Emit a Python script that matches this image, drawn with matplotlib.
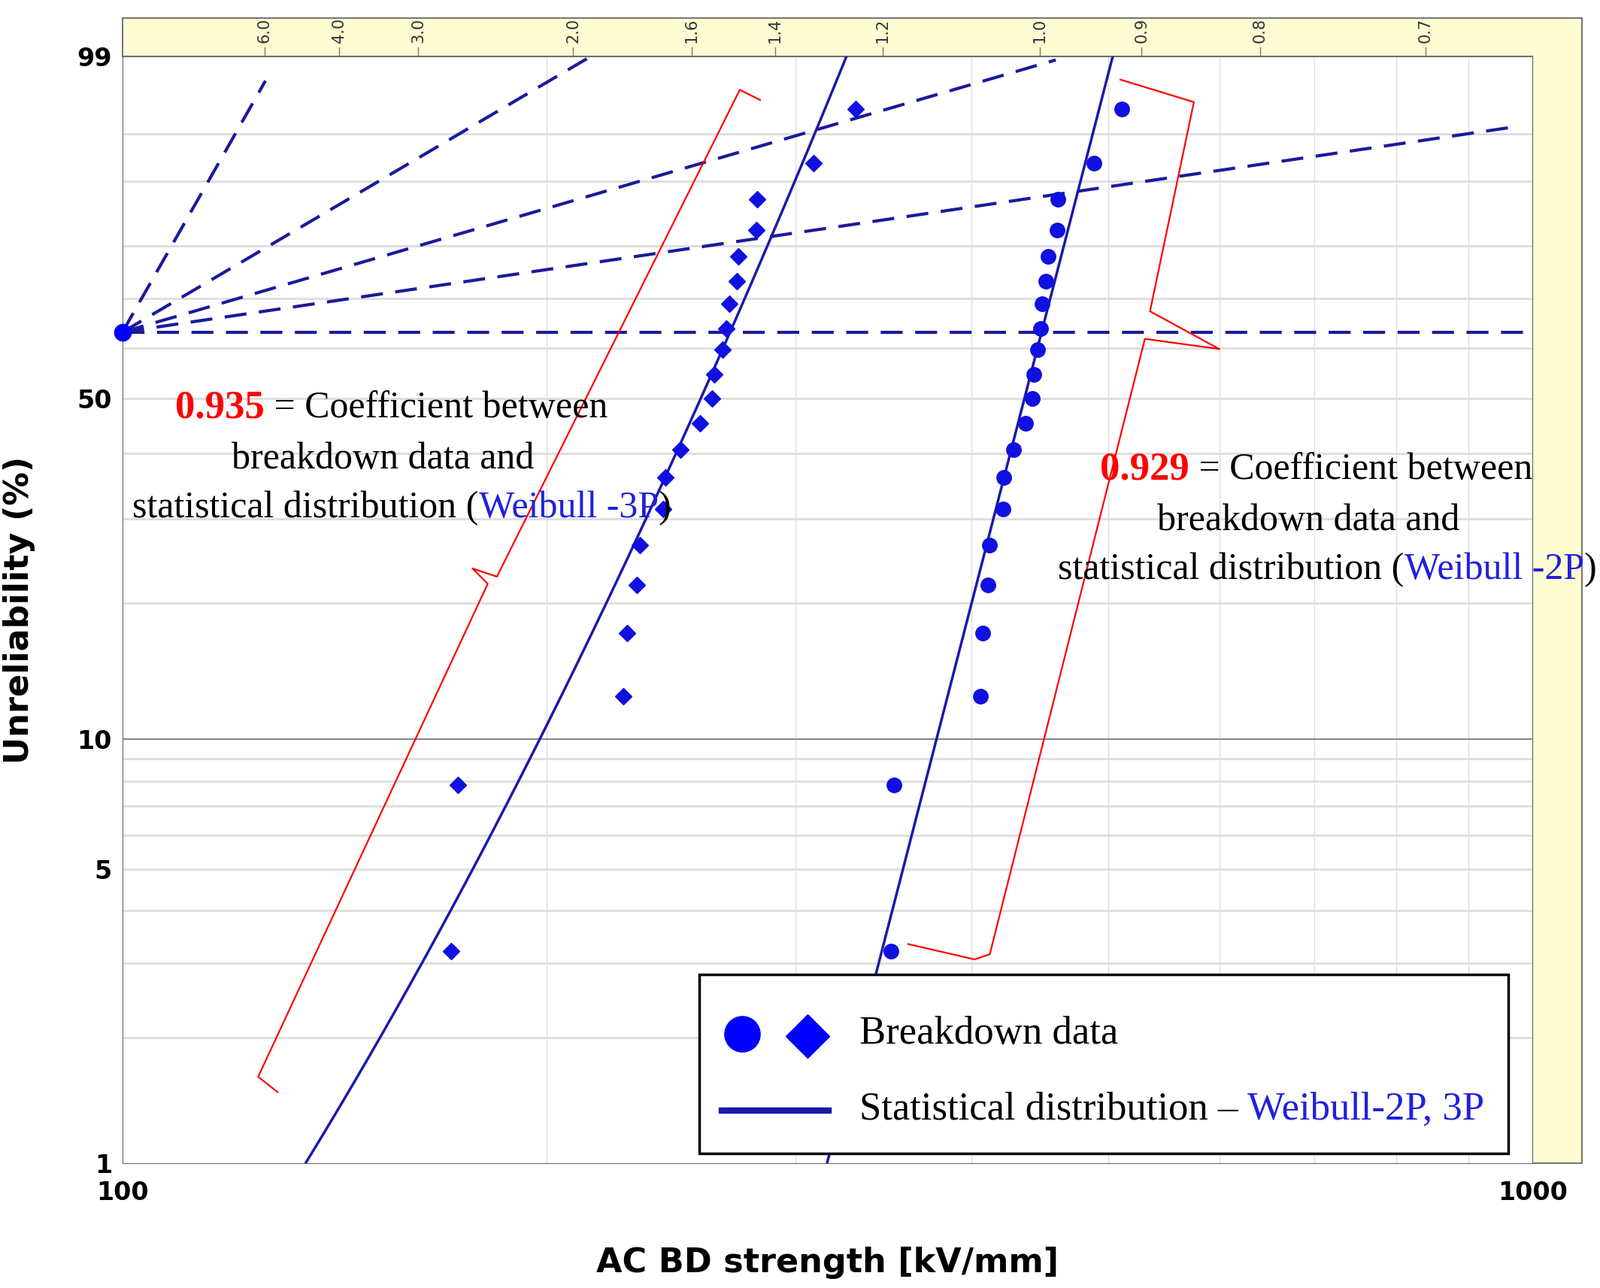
import numpy as np
import matplotlib.pyplot as plt
from matplotlib.patches import Polygon, Rectangle
from matplotlib.lines import Line2D
from matplotlib.transforms import blended_transform_factory

# breakdown data (kV/mm, unreliability %)
F_pct = [7.85, 3.2, 12.5, 17.2, 21.9, 26.5, 31.3, 36.1, 40.6, 45.3, 50.0,
         54.6, 59.6, 63.9, 68.9, 73.5, 78.2, 82.8, 87.6, 92.2, 96.8]
x_3p = [173, 171, 226.6, 228, 231.6, 232.7, 241.8, 242.7, 248.8, 256.8, 261.9,
        262.8, 266.4, 268.2, 269.5, 272.7, 273.2, 281.5, 281.9, 309, 331]
x_2p = [352.4, 350.7, 406, 407.4, 410.8, 412.1, 421.2, 421.9, 428.2, 436.9, 442,
        442.8, 445.7, 448, 448.7, 451.7, 453.2, 460, 460.8, 488.6, 511]

# fitted parameters
beta_2p, eta_2p = 13.13, 448.5
beta_3p, eta_3p, gamma_3p = 12.9, 449.7, -180.0

# beta-scale rays from the eta point: end (x, F%)
ray_ends = [(126.3, 98.2), (215, 99.0), (459, 98.9), (963, 95.5), (1000, 63.21)]
beta_labels = ['6.0', '4.0', '3.0', '2.0', '1.6', '1.4', '1.2', '1.0', '0.9', '0.8', '0.7']
beta_label_x = [126.1, 142.4, 162.1, 208.7, 253.3, 290.2, 346.0, 447.2, 528.0, 640.7, 839.2]

W, H = 1568.0, 1262.0


def fwd(F):
    p = np.clip(np.asarray(F, float) / 100.0, 1e-6, 1 - 1e-9)
    return np.log(-np.log(1 - p))


def inv(w):
    return 100.0 * (1 - np.exp(-np.exp(np.asarray(w, float))))


def px(x, y):
    return x / W, 1 - y / H


fig = plt.figure(figsize=(21.28, 17.13), dpi=100)
serif = ['Liberation Serif', 'DejaVu Serif']
FS = 36

# yellow frame behind the axes
frame = Polygon([px(120, 55), px(120, 18), px(1550, 18), px(1550, 1140), px(1502, 1140), px(1502, 55)],
                closed=True, transform=fig.transFigure, facecolor='#FFFBD2', edgecolor='#777777', lw=1.5,
                zorder=-1)
fig.patches.append(frame)
fig.lines.append(Line2D([px(1502, 55)[0], px(1550, 18)[0]], [px(1502, 55)[1], px(1550, 18)[1]],
                        transform=fig.transFigure, color='#444444', lw=1.5, zorder=-1))

l, b = px(120, 1140)
r, t = px(1502, 55)
ax = fig.add_axes([l, b, r - l, t - b])
ax.set_xscale('log')
ax.set_yscale('function', functions=(fwd, inv))
ax.set_xlim(100, 1000)
ax.set_ylim(1, 99)

# grid
for xv in range(200, 1000, 100):
    ax.axvline(xv, color='#dddddd', lw=1, zorder=0)
for yv in [2, 3, 4, 5, 6, 7, 8, 9, 20, 30, 40, 50, 60, 70, 80, 90, 95]:
    ax.axhline(yv, color='#dddddd', lw=2, zorder=0)
ax.axhline(10, color='#888888', lw=1.5, zorder=0)

ax.set_xticks([100, 1000])
ax.set_xticklabels(['100', '1000'], fontsize=24, fontweight='bold')
ax.xaxis.set_minor_locator(plt.NullLocator())
ax.set_yticks([1, 5, 10, 50, 99])
ax.set_yticklabels(['1', '5', '10', '50', '99'], fontsize=24, fontweight='bold')
ax.yaxis.set_minor_locator(plt.NullLocator())
ax.tick_params(axis='y', length=0, pad=10)
ax.tick_params(axis='x', length=0, pad=16)
ax.set_xlabel('AC BD strength [kV/mm]', fontsize=32, fontweight='bold', labelpad=40)
ax.set_ylabel('Unreliability (%)', fontsize=32, fontweight='bold', labelpad=40)
for s in ax.spines.values():
    s.set_color('#666666')

# beta scale on top
trans = blended_transform_factory(ax.transData, ax.transAxes)
for lab, xv in zip(beta_labels, beta_label_x):
    ax.text(xv, 1.012, lab, transform=trans, rotation=90, fontsize=15, ha='center', va='bottom',
            color='#333333')
    ax.plot([xv, xv], [1.0, 1.008], transform=trans, color='#777777', lw=1, clip_on=False)

# rays
for xe, Fe in ray_ends:
    xs = np.logspace(2, np.log10(xe), 60)
    ws = fwd(63.21) + (np.log10(xs) - 2) / (np.log10(xe) - 2) * (fwd(Fe) - fwd(63.21))
    ax.plot(xs, inv(ws), color='#1a1a9c', lw=3, ls=(0, (7, 4)), zorder=2)
ax.plot([100], [63.21], 'o', color='blue', ms=16, clip_on=False, zorder=5)
ax.text(1.002, fwd(63.21), 'Eta', transform=blended_transform_factory(ax.transAxes, ax.transData),
        fontsize=12, va='center', color='#444444')

# fitted distributions
xf = np.logspace(2, 3, 400)
F2 = 100 * (1 - np.exp(-(xf / eta_2p) ** beta_2p))
F3 = 100 * (1 - np.exp(-((xf - gamma_3p) / eta_3p) ** beta_3p))
ax.plot(xf, F2, color='#1a1aaa', lw=2.5, zorder=3)
ax.plot(xf, F3, color='#1a1aaa', lw=2.5, zorder=3)

# data points
ax.plot(x_3p, F_pct, 'D', color='#1010e0', ms=11, zorder=4)
ax.plot(x_2p, F_pct, 'o', color='#1010e0', ms=14, zorder=4)

# red braces
brace1 = [(272, 1070), (253, 1055), (478, 572), (463, 557), (487, 565), (725, 88), (745, 98)]
brace2 = [(890, 925), (955, 940), (970, 935), (1122, 332), (1195, 342), (1127, 305), (1170, 100), (1098, 78)]
for br in brace1, brace2:
    pts = [px(*p) for p in br]
    fig.lines.append(Line2D([p[0] for p in pts], [p[1] for p in pts], transform=fig.transFigure,
                            color='red', lw=1.6))


def chain(parts, x, y, ha='left', size=FS):
    # parts: list of (text, colour, bold)
    prev = None
    for s, c, bold in parts:
        kw = dict(color=c, fontsize=size + (2 if bold else 0), family=serif,
                  fontweight='bold' if bold else 'normal', va='center', zorder=12)
        if prev is None:
            prev = fig.text(*px(x, y), s, ha=ha, **kw)
        else:
            prev = fig.text(0, 0, s, ha='left', **kw)
            prev.set_position((0, 0))
            prev.set_transform(fig.transFigure)
            prev._anchor = parts
        yield prev


def draw_chain(parts, x, y, size=FS):
    texts = []
    for i, (s, c, bold) in enumerate(parts):
        kw = dict(color=c, fontsize=size + (2 if bold else 0), family=serif,
                  fontweight='bold' if bold else 'normal', va='center', ha='left', zorder=12)
        if i == 0:
            texts.append(fig.text(*px(x, y), s, **kw))
        else:
            texts.append(fig.text(0, 0, s, **kw))
    fig.canvas.draw()
    rend = fig.canvas.get_renderer()
    inv_t = fig.transFigure.inverted()
    for i in range(1, len(texts)):
        bb = texts[i - 1].get_window_extent(rend)
        x1 = inv_t.transform((bb.x1, bb.y0))[0]
        texts[i].set_position((x1, px(x, y)[1]))


def centered(s, xc, y, size=FS, color='black'):
    fig.text(*px(xc, y), s, fontsize=size, family=serif, color=color, ha='center', va='center', zorder=12)


# annotation texts (3P, left)
draw_chain([('0.935', 'red', True), (' = Coefficient between', 'black', False)], 172, 400)
centered('breakdown data and', 375, 450)
draw_chain([('statistical distribution (', 'black', False), ('Weibull -3P', '#2020dd', False),
            (')', 'black', False)], 130, 498)

# annotation texts (2P, right)
draw_chain([('0.929', 'red', True), (' = Coefficient between', 'black', False)], 1078, 460)
centered('breakdown data and', 1282, 510)
draw_chain([('statistical distribution (', 'black', False), ('Weibull -2P', '#2020dd', False),
            (')', 'black', False)], 1037, 558)

# legend box
lx0, ly0 = px(685, 1130)
lx1, ly1 = px(1478, 955)
fig.patches.append(Rectangle((lx0, ly0), lx1 - lx0, ly1 - ly0, transform=fig.transFigure,
                             facecolor='white', edgecolor='black', lw=2.5, zorder=10))
fig.lines.append(Line2D([px(727, 1013)[0]], [px(727, 1013)[1]], marker='o', ms=34, color='blue',
                        transform=fig.transFigure, zorder=11))
fig.lines.append(Line2D([px(791, 1015)[0]], [px(791, 1015)[1]], marker='D', ms=30, color='blue',
                        transform=fig.transFigure, zorder=11))
fig.lines.append(Line2D([px(707, 1088)[0], px(812, 1088)[0]], [px(707, 1088)[1], px(812, 1088)[1]],
                        color='#1a1aaa', lw=6, transform=fig.transFigure, zorder=11))
draw_chain([('Breakdown data', 'black', False)], 842, 1013, size=38)
draw_chain([('Statistical distribution \u2013 ', 'black', False), ('Weibull-2P, 3P', '#2020dd', False)],
           842, 1087, size=38)

fig.savefig('out.png', dpi=100)
